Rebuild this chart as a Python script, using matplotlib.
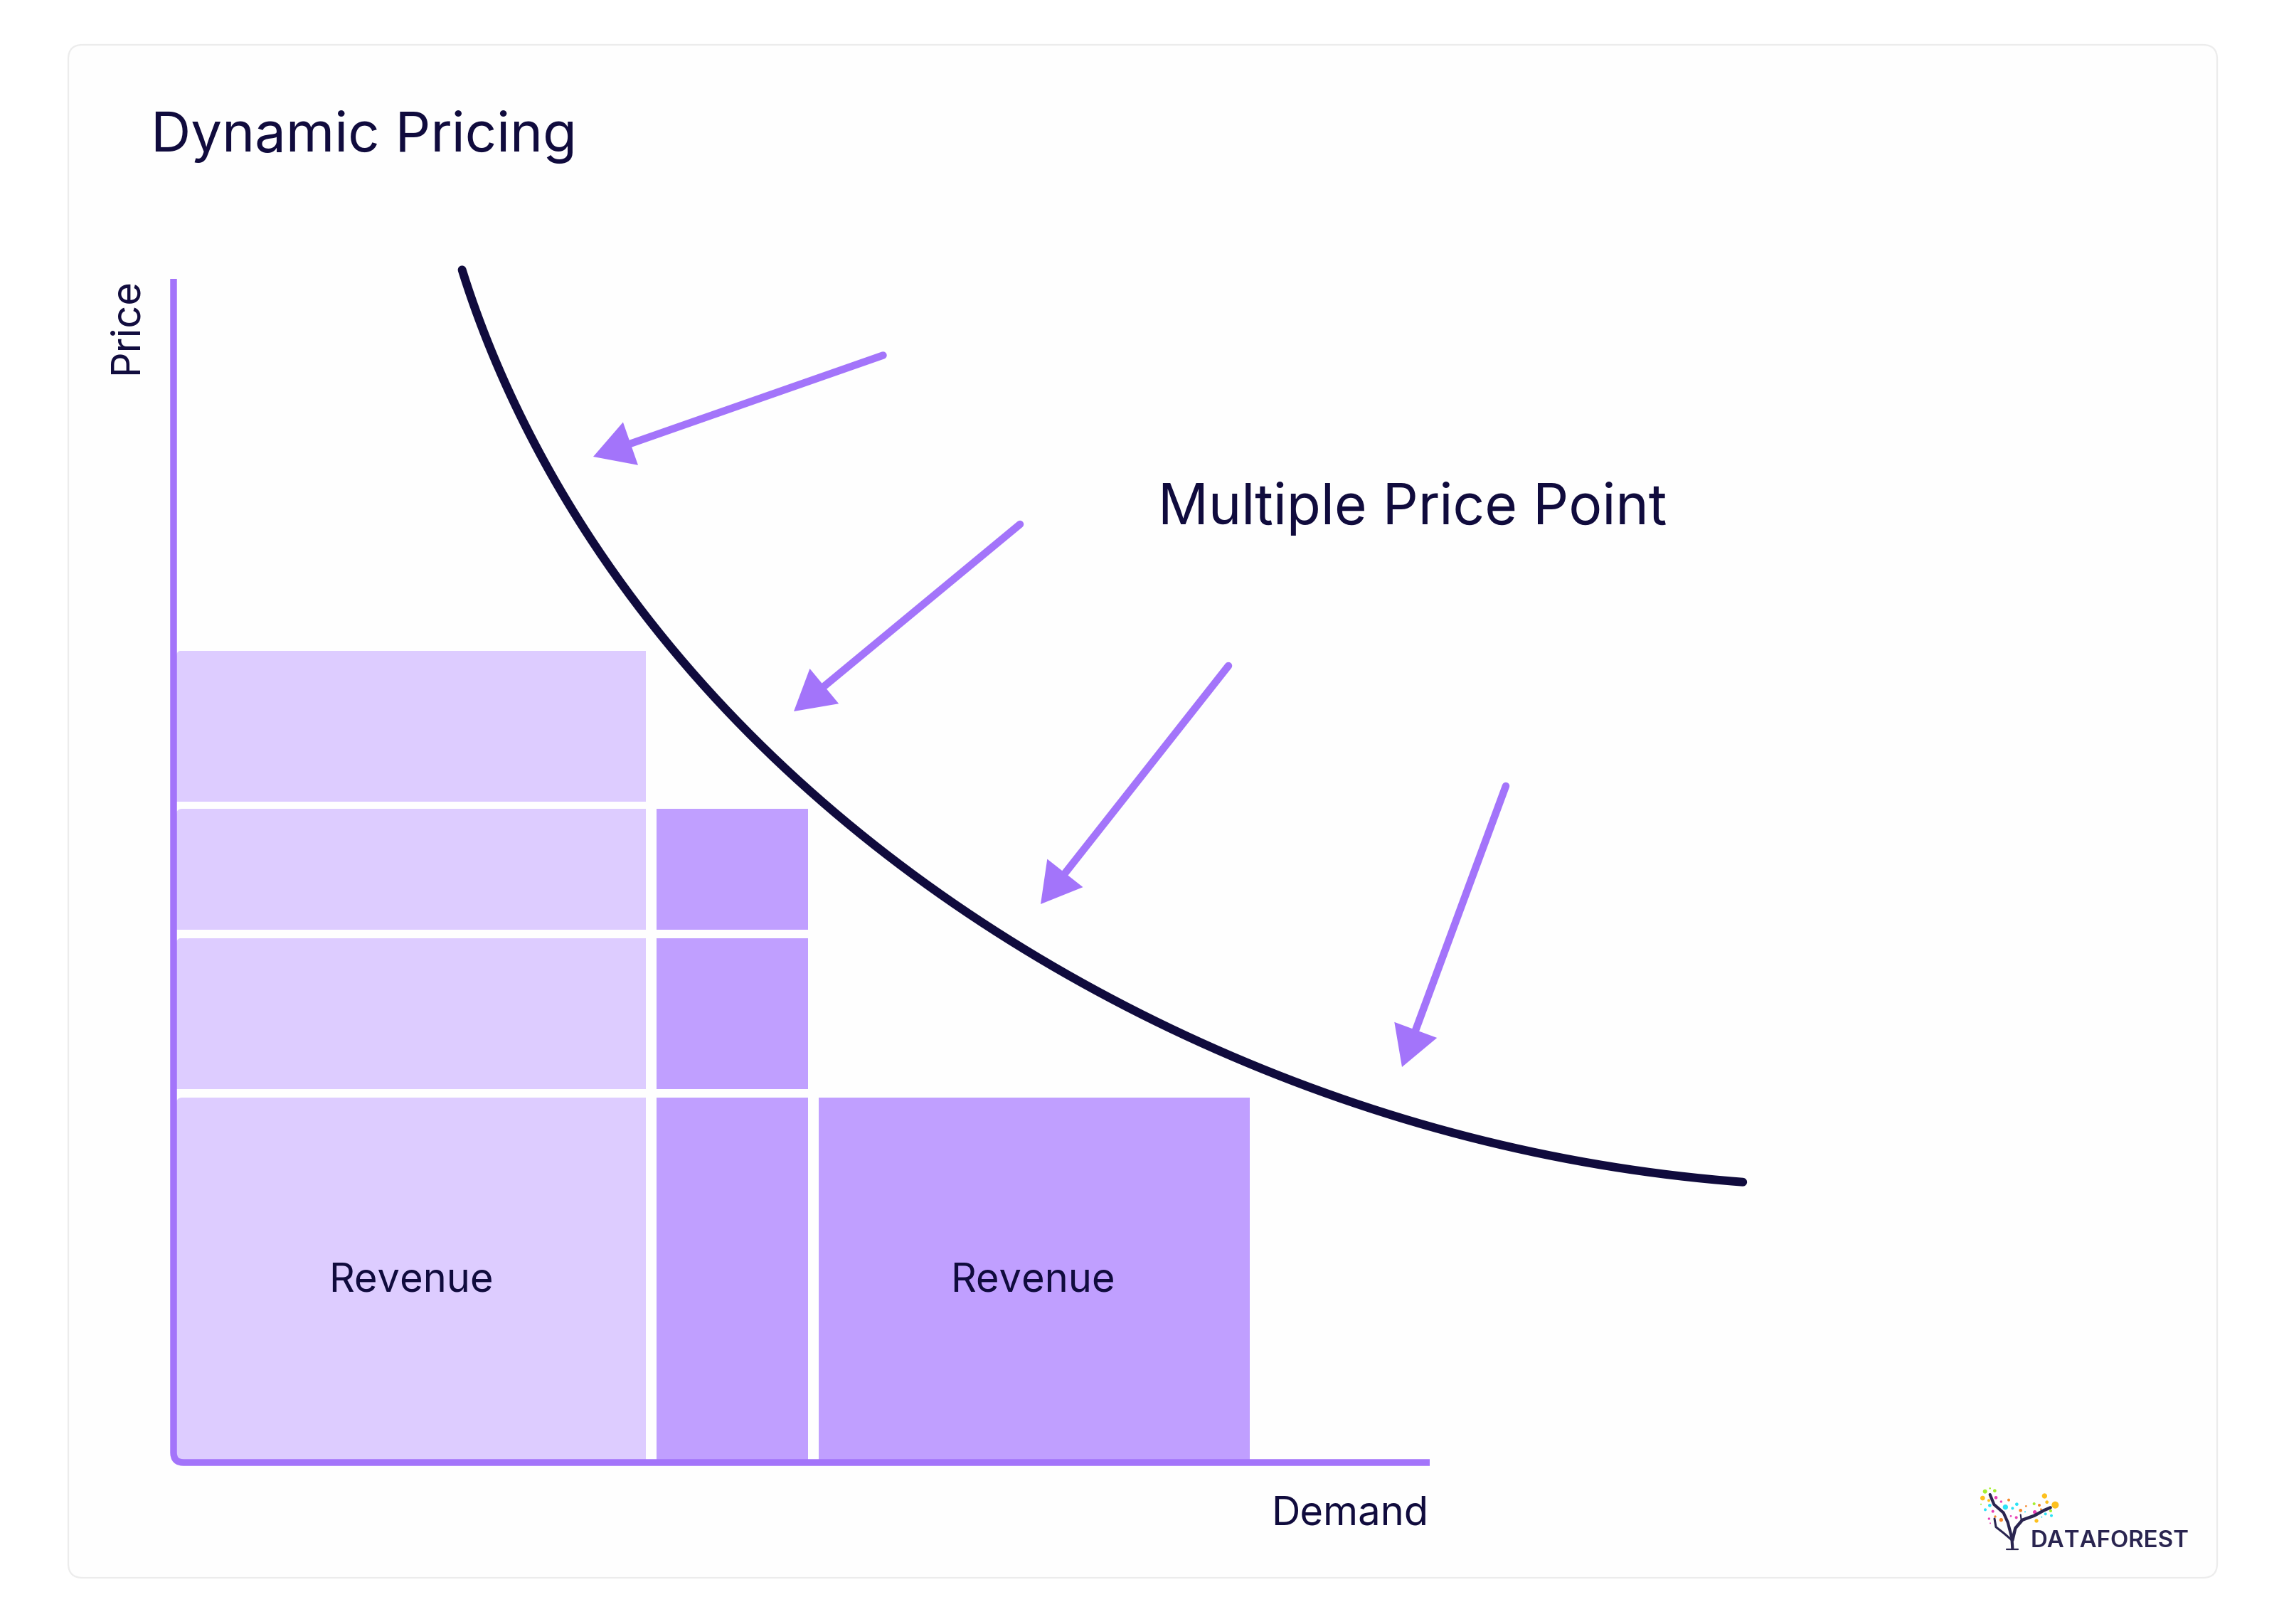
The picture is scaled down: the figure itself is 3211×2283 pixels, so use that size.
import numpy as np
import matplotlib
matplotlib.use('Agg')
import matplotlib.pyplot as plt
from matplotlib.path import Path
from matplotlib.patches import PathPatch, FancyBboxPatch

W, H = 3212, 2283
plt.rcParams['font.family'] = ['Inter', 'DejaVu Sans']

# Colours
INK = '#100b3d'
AXIS = '#a374fa'
LIGHT = '#ddccff'
DARK = '#c09fff'
NAVY = '#2a2550'

# Data (1 unit = 1 px, origin at the axis corner)
light_left = 4
light_width = 660.5
light_bottom = [4, 525, 749, 929]
light_top = [513, 737.5, 919, 1141.5]

dark_left = 679
dark_width = 213
dark_bottom = [4, 525, 749]
dark_top = [513, 737.5, 919]

wide_left = 907
wide_width = 606
wide_bottom = [4]
wide_top = [513]

curve_demand = [406, 445, 499, 552, 624, 704, 756, 831, 894, 975, 1057, 1139,
                1215, 1307, 1394, 1533, 1609, 1686, 1762, 1864, 1966, 2068, 2206]
curve_price = [1677, 1563, 1452, 1353, 1242, 1139, 1084, 1007, 943, 871, 813, 759,
               711, 660, 614, 554, 521, 496, 473, 447, 427, 409, 394]

arrow_tail_demand = [997.5, 1190, 1483, 1873]
arrow_tail_price = [1556.5, 1319, 1120, 951]
arrow_tip_demand = [590, 872, 1219, 1727]
arrow_tip_price = [1414, 1056, 785, 556]

axis_top = 1664
axis_end = 1766

# Logo dots in logo coordinates: x, y, radius
logo_green = [(272, 170, 9), (293, 157, 4), (313, 167, 7), (479, 222, 6), (549, 252, 6), (255, 224, 3)]
logo_yellow = [(262, 198, 10), (288, 208, 6), (523, 189, 11), (533, 215, 7), (568, 227, 15), (489, 294, 8)]
logo_magenta = [(318, 196, 7), (340, 213, 5), (305, 254, 6), (289, 285, 5), (294, 304, 3),
                (381, 274, 4), (404, 280, 6), (482, 257, 8)]
logo_cyan = [(292, 229, 7), (273, 247, 6), (358, 236, 11), (388, 241, 6), (406, 224, 7),
             (441, 256, 3), (527, 265, 6), (552, 272, 6), (511, 278, 3)]
logo_orange = [(372, 206, 6), (422, 250, 7), (445, 232, 4), (501, 228, 6), (508, 245, 4),
               (315, 276, 5), (340, 290, 8)]
logo_branches = [
    ([293, 310, 350, 368, 385, 388], [183, 225, 260, 300, 365, 410], 3.0),
    ([388, 400, 430, 480, 520, 548], [375, 325, 290, 272, 250, 238], 3.2),
    ([312, 318, 350, 385], [285, 320, 345, 375], 2.2),
    ([422, 425], [268, 290], 1.5),
    ([362, 412], [414, 414], 1.6),
]

fig = plt.figure(figsize=(W / 100, H / 100), dpi=100, facecolor='white')
ax = fig.add_axes([0, 0, 1, 1])
ax.set_xlim(-244, W - 244)
ax.set_ylim(2056 - H, 2056)
ax.axis('off')

# Card behind the chart
card = FancyBboxPatch((96 - 244 + 20, 2056 - 2218 + 20), 3021 - 40, 2155 - 40,
                      boxstyle='round,pad=20', fc='#fefefe', ec='#ececec', lw=1.6, zorder=0)
ax.add_patch(card)


def draw_bars(left, width, bottom, top, color):
    bottom = np.array(bottom)
    top = np.array(top)
    return ax.bar([left] * len(bottom), top - bottom, width=width, bottom=bottom,
                  align='edge', color=color, linewidth=0, zorder=2)


light_bars = draw_bars(light_left, light_width, light_bottom, light_top, LIGHT)
draw_bars(dark_left, dark_width, dark_bottom, dark_top, DARK)
draw_bars(wide_left, wide_width, wide_bottom, wide_top, DARK)

# small round corner on the top left of the light bars
c = 8
for rect in light_bars:
    x0, y0 = rect.get_xy()
    x1, y1 = x0 + rect.get_width(), y0 + rect.get_height()
    clip = Path([(x0, y0), (x1, y0), (x1, y1), (x0 + c, y1), (x0, y1), (x0, y1 - c), (x0, y0)],
                [Path.MOVETO, Path.LINETO, Path.LINETO, Path.LINETO, Path.CURVE3, Path.CURVE3, Path.CLOSEPOLY])
    rect.set_clip_path(clip, ax.transData)

# Axis with the rounded corner
r = 14
axis_path = Path([(0, axis_top), (0, r), (0, 0), (r, 0), (axis_end, 0)],
                 [Path.MOVETO, Path.LINETO, Path.CURVE3, Path.CURVE3, Path.LINETO])
ax.add_patch(PathPatch(axis_path, fc='none', ec=AXIS, lw=9.5 * 0.72, capstyle='butt', zorder=3))

# Demand curve: a smooth fit along arc length evens out the reading error of the points
cx = np.array(curve_demand, dtype=float)
cy = np.array(curve_price, dtype=float)
s = np.r_[0, np.cumsum(np.hypot(np.diff(cx), np.diff(cy)))]
s = s / s[-1]
ss = np.linspace(0, 1, 300)
ax.plot(np.polyval(np.polyfit(s, cx, 6), ss), np.polyval(np.polyfit(s, cy, 6), ss),
        color=INK, lw=12 * 0.72, solid_capstyle='round', zorder=4)

# Arrows: shaft and a separate head without outline
for xt, yt, xh, yh in zip(arrow_tail_demand, arrow_tail_price, arrow_tip_demand, arrow_tip_price):
    d = np.hypot(xh - xt, yh - yt)
    ux, uy = (xh - xt) / d, (yh - yt) / d
    ax.plot([xt, xh - 40 * ux], [yt, yh - 40 * uy], color=AXIS, lw=10.5 * 0.72,
            solid_capstyle='round', zorder=4)
    ax.annotate('', xy=(xh, yh), xytext=(xt, yt), zorder=5,
                arrowprops=dict(arrowstyle='-|>,head_length=40,head_width=23', mutation_scale=1,
                                fc=AXIS, ec=AXIS, lw=0, shrinkA=0, shrinkB=0))

# Text, positions in picture pixels
def label(x, y, s, size, **kw):
    fig.text(x / W, 1 - y / H, s, fontsize=size * 0.72, color=INK, va='baseline', **kw)


label(212, 213, 'Dynamic Pricing', 78)
label(1628, 737, 'Multiple Price Point', 78.5)
label(2008, 2143, 'Demand', 56, ha='right')
label(578, 1816, 'Revenue', 56, ha='center')
label(1452, 1816, 'Revenue', 56, ha='center')
fig.text(193 / W, 1 - 526 / H, 'Price', fontsize=56 * 0.72, color=INK, rotation=90,
         ha='left', va='baseline', rotation_mode='anchor')

# Logo, coordinates are 3x pixels of its corner of the picture
logo = fig.add_axes([2700 / W, 1 - 2283 / H, 512 / W, 243 / H])
logo.set_xlim(0, 1536)
logo.set_ylim(729, 0)
logo.axis('off')
logo.patch.set_alpha(0)
for dots, col in [(logo_green, '#a5ef2e'), (logo_yellow, '#fdc01e'), (logo_magenta, '#e83fb4'),
                  (logo_cyan, '#2de2f5'), (logo_orange, '#f5892b')]:
    xs, ys, rs = zip(*dots)
    # radius in logo units -> area in points^2
    logo.scatter(xs, ys, s=(np.array(rs) / 3 * 0.72 * 2) ** 2, color=col, linewidths=0, zorder=2)
for bx, by, lw in logo_branches:
    logo.plot(bx, by, color=NAVY, lw=lw, solid_capstyle='round', zorder=3)
logo.text(465, 405, 'DATAFOREST', fontsize=33 * 0.72, color=NAVY, fontweight='semibold',
          va='baseline', ha='left')

fig.savefig('out.png', dpi=100)
